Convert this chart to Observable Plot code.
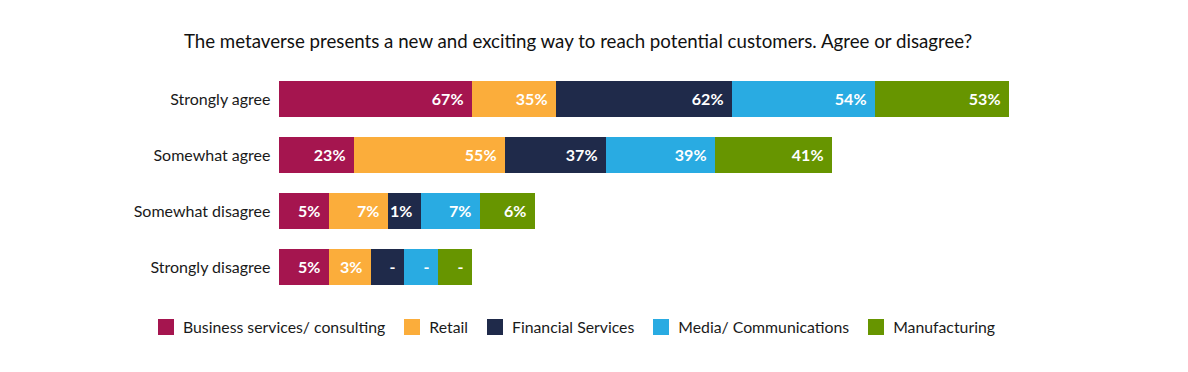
<!DOCTYPE html>
<html>
<head>
<meta charset="utf-8">
<script src="https://cdn.jsdelivr.net/npm/d3@7"></script>
<script src="https://cdn.jsdelivr.net/npm/@observablehq/plot@0.6"></script>
<style>
  html, body { margin: 0; padding: 0; background: #fff; }
  body { font-family: Lato, "Open Sans", sans-serif; color: #1a1a1a; }
  #wrap { position: relative; width: 1188px; height: 372px; overflow: hidden; }
  #title { position: absolute; left: 0; width: 1156px; top: 30px; text-align: center; font-size: 18.7px; line-height: 22px; color: #111; }
  #chart { position: absolute; left: 0; top: 60px; }
  #legend { position: absolute; left: 158px; top: 318px; display: flex; align-items: center; font-size: 15.8px; line-height: 18px; color: #1a1a1a; white-space: nowrap; }
  .item { display: flex; align-items: center; margin-right: 19px; }
  .sw { width: 16px; height: 16px; margin-right: 9px; }
</style>
</head>
<body>
<div id="wrap">
  <div id="title"></div>
  <div id="chart"></div>
  <div id="legend"></div>
</div>
<script>
const titleText = "The metaverse presents a new and exciting way to reach potential customers. Agree or disagree?";
const categories = ["Strongly agree", "Somewhat agree", "Somewhat disagree", "Strongly disagree"];
const industries = ["Business services/ consulting", "Retail", "Financial Services", "Media/ Communications", "Manufacturing"];
const colors = ["#a5154f", "#fbad3b", "#1f2a4a", "#29abe2", "#679500"];

// Percentages shown on each segment (null shown as "-"), per industry, in category order
const businessPct = [67, 23, 5, 5];
const retailPct = [35, 55, 7, 3];
const financialPct = [62, 37, 1, null];
const mediaPct = [54, 39, 7, null];
const manufacturingPct = [53, 41, 6, null];

// Segment lengths as drawn in the original (not proportional to the percentages)
const businessLen = [193, 75, 50, 50];
const retailLen = [84, 151, 59, 42];
const financialLen = [176, 101, 33, 33];
const mediaLen = [143, 109, 59, 34];
const manufacturingLen = [134, 117, 55, 34];

const pcts = [businessPct, retailPct, financialPct, mediaPct, manufacturingPct];
const lens = [businessLen, retailLen, financialLen, mediaLen, manufacturingLen];

const data = [];
categories.forEach((c, ci) => {
  industries.forEach((ind, ii) => {
    const v = pcts[ii][ci];
    data.push({category: c, industry: ind, len: lens[ii][ci], label: v == null ? "-" : v + "%"});
  });
});

document.getElementById("title").textContent = titleText;

const chart = Plot.plot({
  width: 1188,
  height: 240,
  marginLeft: 279,
  marginRight: 179,
  marginTop: 11,
  marginBottom: 5,
  style: {fontFamily: "Lato, sans-serif", fontSize: "16px", color: "#1a1a1a", background: "transparent"},
  x: {domain: [0, 730], axis: null},
  y: {domain: categories, paddingInner: 20 / 56, paddingOuter: 10 / 56, label: null, tickSize: 0, tickPadding: 9},
  color: {domain: industries, range: colors},
  marks: [
    Plot.barX(data, Plot.stackX({x: "len", y: "category", fill: "industry", order: null})),
    Plot.text(data, Plot.stackX2({x: "len", y: "category", z: "industry", text: "label", order: null,
      textAnchor: "end", dx: -9, fill: "white", fontWeight: "bold", fontSize: 16}))
  ]
});
document.getElementById("chart").appendChild(chart);

const legend = document.getElementById("legend");
industries.forEach((ind, i) => {
  const item = document.createElement("div");
  item.className = "item";
  const sw = document.createElement("div");
  sw.className = "sw";
  sw.style.background = colors[i];
  const t = document.createElement("span");
  t.textContent = ind;
  item.appendChild(sw);
  item.appendChild(t);
  legend.appendChild(item);
});
</script>
</body>
</html>
